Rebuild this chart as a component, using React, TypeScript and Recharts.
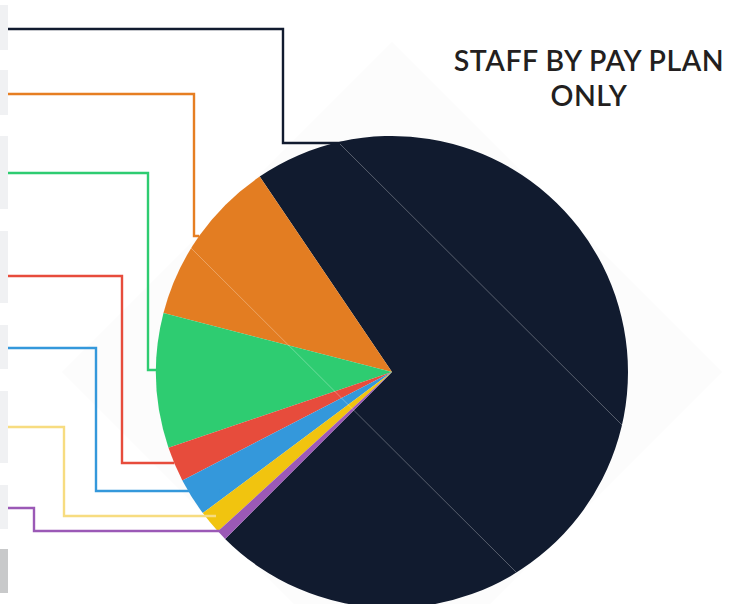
import React from 'react';
import { PieChart, Pie, Cell } from 'recharts';

// ---- data ----
const payPlans = ['GS', 'WG', 'WS', 'WL', 'ES', 'AD', 'Other'];
const staffCounts = [719, 115, 92, 24, 26, 16, 7];
const titleLines = ['STAFF BY PAY PLAN', 'ONLY'];

// ---- styles / layout ----
const sliceColors = ['#111b2f', '#e37d22', '#2ecc71', '#e74c3c', '#3498db', '#f1c40f', '#9b59b6'];
const leaderColors = ['#111b2f', '#e67e22', '#2ecc71', '#e74c3c', '#3498db', '#f7dc80', '#9b59b6'];
const labelLineY = [29, 94, 173, 276, 348, 427, 508];
const labelElbowX = [283, 194, 148, 122, 96, 64, 34];
const connectorEndY = [143, 236, 370, 463, 491, 516, 531];
const connectorInset = [8, 0, 0, 0, 31, 11, 4];
const labelBoxTop = [5, 70, 136, 231, 325, 391, 485];
const labelBoxHeight = [45, 45, 73, 72, 44, 72, 44];

const W = 731;
const H = 604;
const CX = 392;
const CY = 372;
const R = 236;

const chartData = payPlans.map((name, i) => ({ name, value: staffCounts[i] }));

const renderLabel = (props: any) => {
  const { cx, cy, outerRadius, index } = props;
  const endY = connectorEndY[index];
  const dy = endY - cy;
  const half = Math.sqrt(Math.max(outerRadius * outerRadius - dy * dy, 0));
  const endX = cx - half + connectorInset[index];
  const ly = labelLineY[index];
  const ex = labelElbowX[index];
  return (
    <g key={`lbl-${index}`}>
      <rect x={0} y={labelBoxTop[index]} width={8} height={labelBoxHeight[index]} fill="#f0f1f3" />
      <polyline
        points={`8,${ly} ${ex},${ly} ${ex},${endY} ${endX},${endY}`}
        fill="none"
        stroke={leaderColors[index]}
        strokeWidth={2.4}
      />
    </g>
  );
};

export default function App() {
  return (
    <div style={{ position: 'absolute', left: 0, top: 0, width: W, height: H, background: '#ffffff' }}>
      <svg width={W} height={H} style={{ position: 'absolute', left: 0, top: 0 }}>
        <polygon
          points={`${CX},${CY - 330} ${CX + 330},${CY} ${CX},${CY + 330} ${CX - 330},${CY}`}
          fill="#fcfcfc"
        />
        <rect x={0} y={549} width={8} height={44} fill="#c8c9ca" />
      </svg>
      <div style={{ position: 'absolute', left: 0, top: 0 }}>
        <PieChart width={W} height={H} margin={{ top: 0, right: 0, bottom: 0, left: 0 }}>
          <Pie
            data={chartData}
            dataKey="value"
            nameKey="name"
            cx={CX}
            cy={CY}
            outerRadius={R}
            startAngle={-135}
            endAngle={225}
            stroke="none"
            isAnimationActive={false}
            labelLine={false}
            label={renderLabel}
          >
            {chartData.map((d, i) => (
              <Cell key={d.name} fill={sliceColors[i]} />
            ))}
          </Pie>
        </PieChart>
      </div>
      <svg width={W} height={H} style={{ position: 'absolute', left: 0, top: 0, pointerEvents: 'none' }}>
        <line x1={CX - 52} y1={CY - 228} x2={CX + 230} y2={CY + 53} stroke="#ffffff" strokeOpacity={0.3} strokeWidth={1} />
        <line x1={CX - 202} y1={CY - 125} x2={CX + 124} y2={CY + 200} stroke="#ffffff" strokeOpacity={0.3} strokeWidth={1} />
        {titleLines.map((t, i) => (
          <text
            key={t}
            x={589}
            y={71 + i * 35}
            textAnchor="middle"
            fontFamily="Lato, sans-serif"
            fontSize={28.5}
            fontWeight={600}
            letterSpacing={0.5}
            fill="#231f20"
          >
            {t}
          </text>
        ))}
      </svg>
    </div>
  );
}
